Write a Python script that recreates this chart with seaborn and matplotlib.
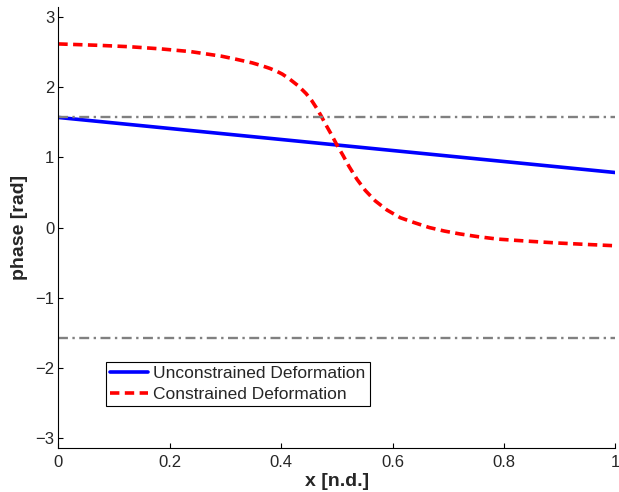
import numpy as np
import pandas as pd
import matplotlib
matplotlib.use("Agg")
import matplotlib.pyplot as plt
import seaborn as sns

# Phase along the non-dimensional coordinate
x_free = [0.0, 0.5, 1.0]
phase_free = [1.571, 1.178, 0.785]

x_con = [0.0, 0.073, 0.128, 0.183, 0.238, 0.293, 0.32, 0.348, 0.365, 0.38,
         0.392, 0.402, 0.415, 0.431, 0.445, 0.455, 0.464, 0.472, 0.48, 0.49,
         0.5, 0.511, 0.522, 0.536, 0.551, 0.569, 0.59, 0.614, 0.639, 0.666,
         0.693, 0.72, 0.753, 0.789, 0.844, 0.895, 0.946, 1.0]
phase_con = [2.62, 2.60, 2.58, 2.55, 2.51, 2.445, 2.40, 2.35, 2.31, 2.27,
             2.23, 2.19, 2.12, 2.02, 1.91, 1.81, 1.70, 1.59, 1.47, 1.33,
             1.18, 1.03, 0.87, 0.69, 0.53, 0.38, 0.25, 0.14, 0.07, 0.0,
             -0.05, -0.09, -0.13, -0.165, -0.195, -0.22, -0.24, -0.26]

# Reference levels at +/- pi/2
x_ref = [0.0, 1.0]
ref_levels = [np.pi / 2, -np.pi / 2]

x_ticks = [0, 0.2, 0.4, 0.6, 0.8, 1]
x_ticklabels = ["0", "0.2", "0.4", "0.6", "0.8", "1"]
y_ticks = [-3, -2, -1, 0, 1, 2, 3]

sns.set_style("ticks")
plt.rcParams["font.family"] = ["Liberation Sans", "DejaVu Sans"]
plt.rcParams["xtick.direction"] = "in"
plt.rcParams["ytick.direction"] = "in"

fig = plt.figure(figsize=(6.19, 4.92), dpi=100)
ax = fig.add_axes([0.0942, 0.090, 0.900, 0.895])

df_free = pd.DataFrame({"x": x_free, "phase": phase_free})
df_con = pd.DataFrame({"x": x_con, "phase": phase_con})

sns.lineplot(data=df_free, x="x", y="phase", ax=ax, color="#0000ff",
             lw=2.6, label="Unconstrained Deformation")
sns.lineplot(data=df_con, x="x", y="phase", ax=ax, color="#ff0000",
             lw=2.6, linestyle=(0, (2.6, 1.5)), label="Constrained Deformation")
for lvl in ref_levels:
    sns.lineplot(x=x_ref, y=[lvl, lvl], ax=ax, color="#808080", lw=1.7,
                 linestyle=(0, (4.2, 1.9, 1.0, 1.9)), legend=False)

ax.set_xlim(0, 1)
ax.set_ylim(-np.pi, np.pi)
ax.set_xticks(x_ticks)
ax.set_xticklabels(x_ticklabels)
ax.set_yticks(y_ticks)
ax.tick_params(labelsize=12, length=3.6, width=0.8, color="black")
ax.tick_params(axis="x", pad=5)
ax.tick_params(axis="y", pad=3)
for side in ("top", "right"):
    ax.spines[side].set_visible(False)
for side in ("left", "bottom"):
    ax.spines[side].set_linewidth(0.8)
    ax.spines[side].set_color("black")

ax.set_xlabel("x [n.d.]", fontsize=14, fontweight="bold")
ax.set_ylabel("phase [rad]", fontsize=14, fontweight="bold")
ax.xaxis.set_label_coords(0.5, -0.0574)
ax.xaxis.label.set_va("top")
ax.yaxis.set_label_coords(-0.054, 0.5)

handles, labels = ax.get_legend_handles_labels()
leg = ax.legend(handles[:2], labels[:2], loc="upper left",
                bbox_to_anchor=(0.085, 0.195), borderaxespad=0,
                fontsize=12.5, handlelength=2.2, handletextpad=0.3,
                labelspacing=0.3, borderpad=0.25, fancybox=False,
                frameon=True)
leg.get_frame().set_edgecolor("black")
leg.get_frame().set_linewidth(0.8)
leg.get_frame().set_alpha(1)

fig.savefig("out.png", dpi=100)
